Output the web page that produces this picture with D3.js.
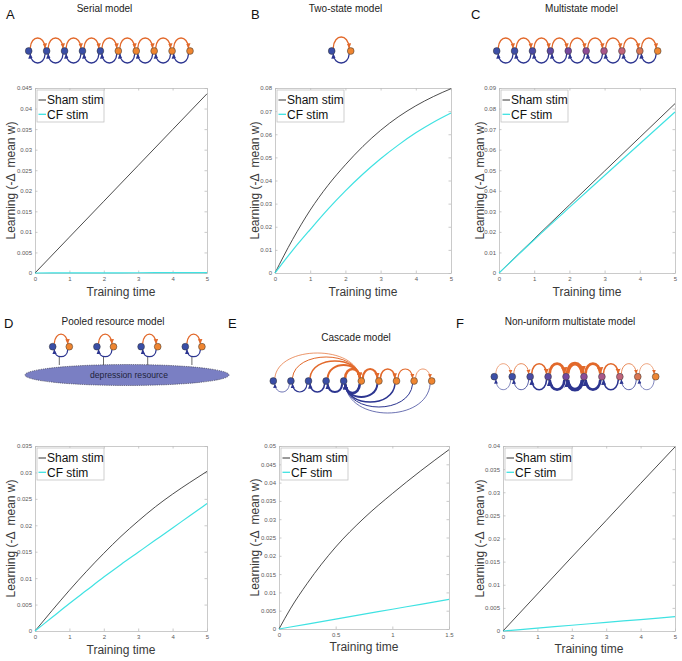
<!DOCTYPE html>
<html><head><meta charset="utf-8">
<script src="https://cdn.jsdelivr.net/npm/d3@7"></script>
<style>body{margin:0;background:#fff}svg{display:block;font-family:"Liberation Sans",Arial,Helvetica,sans-serif}</style>
</head><body><svg id="fig" width="682" height="661"></svg>
<script>
// ---------------- data ----------------
const seriesNames = ["Sham stim", "CF stim"];

const timeA = [0, 1, 2, 3, 4, 5];
const shamA = [0, 0.00872, 0.01744, 0.02616, 0.03488, 0.0436];
const cfA   = [0, 0.00002, 0.00004, 0.00006, 0.00008, 0.0001];

const timeB = [0, 0.5, 1, 1.5, 2, 2.5, 3, 3.5, 4, 4.5, 5];
const shamB = [0, 0.0145, 0.0272, 0.0378, 0.0468, 0.0548, 0.0617, 0.0675, 0.0723, 0.0763, 0.0797];
const cfB   = [0, 0.0098, 0.0188, 0.0275, 0.0355, 0.0428, 0.0494, 0.0553, 0.0606, 0.0652, 0.0692];

const timeC = [0, 1, 2, 3, 4, 5];
const shamC = [0, 0.0166, 0.0331, 0.0496, 0.0660, 0.0824];
const cfC   = [0, 0.0162, 0.0319, 0.0474, 0.0629, 0.0783];

const timeD = [0, 0.5, 1, 1.5, 2, 2.5, 3, 3.5, 4, 4.5, 5];
const shamD = [0, 0.0039, 0.0077, 0.0113, 0.0147, 0.0179, 0.0208, 0.0235, 0.0259, 0.0281, 0.0302];
const cfD   = [0, 0.0026, 0.0052, 0.0077, 0.0102, 0.0126, 0.0149, 0.0172, 0.0195, 0.0218, 0.0241];

const timeE = [0, 0.1, 0.25, 0.5, 0.75, 1, 1.25, 1.5];
const shamE = [0, 0.0055, 0.0125, 0.0224, 0.0303, 0.0370, 0.0432, 0.0490];
const cfE   = [0, 0.00054, 0.00135, 0.0027, 0.00405, 0.0054, 0.00675, 0.0081];

const timeF = [0, 1, 2, 3, 4, 5];
const shamF = [0, 0.0080, 0.0160, 0.0239, 0.0319, 0.0398];
const cfF   = [0, 0.00062, 0.00124, 0.00186, 0.00248, 0.0031];

const xTicks5 = [0, 1, 2, 3, 4, 5];
const xTicksE = [0, 0.5, 1, 1.5];
const yTicksA = [0, 0.005, 0.01, 0.015, 0.02, 0.025, 0.03, 0.035, 0.04, 0.045];
const yTicksB = [0, 0.01, 0.02, 0.03, 0.04, 0.05, 0.06, 0.07, 0.08];
const yTicksC = [0, 0.01, 0.02, 0.03, 0.04, 0.05, 0.06, 0.07, 0.08, 0.09];
const yTicksD = [0, 0.005, 0.01, 0.015, 0.02, 0.025, 0.03, 0.035];
const yTicksE = [0, 0.005, 0.01, 0.015, 0.02, 0.025, 0.03, 0.035, 0.04, 0.045, 0.05];
const yTicksF = [0, 0.005, 0.01, 0.015, 0.02, 0.025, 0.03, 0.035, 0.04];

const panelLetters = ["A", "B", "C", "D", "E", "F"];
const panelTitles = ["Serial model", "Two-state model", "Multistate model",
                     "Pooled resource model", "Cascade model", "Non-uniform multistate model"];
const xLabel = "Training time";
const yLabel = "Learning (-\u0394  mean w)";
const poolLabel = "depression resource";

// ---------------- styles ----------------
const SHAM_COLOR = "#1e1e1e", CF_COLOR = "#3fe2e2";
const AXIS_COLOR = "#bcbcbc", TICKTXT = "#5a5a5a", LABEL = "#3a3a3a";
const BLUE = "#3a4ea6", ORANGE = "#ef8530";
const ARC_UP = "#e2692b", ARC_DN = "#2c3590";
const multiColors = ["#3d4fa6","#3f4ea6","#4a4ba3","#5d49a1","#74489e","#8d4c97","#a8578a","#c0647a","#d97652","#ee8733"];
const R = 3.4;

const svg = d3.select("#fig");
svg.append("rect").attr("width",682).attr("height",661).attr("fill","#fff");
const defs = svg.append("defs");

// ---------------- plots ----------------
const panels = [
  {box:[35,207,88,273],  t:timeA, s:shamA, c:cfA, xd:[0,5],   yd:[0,0.045], xt:xTicks5, yt:yTicksA, ylx:10.5,xly:296},
  {box:[275,451,88,273], t:timeB, s:shamB, c:cfB, xd:[0,5],   yd:[0,0.08],  xt:xTicks5, yt:yTicksB, ylx:254.5, xly:296},
  {box:[499,675,88,273], t:timeC, s:shamC, c:cfC, xd:[0,5],   yd:[0,0.09],  xt:xTicks5, yt:yTicksC, ylx:479.5, xly:296},
  {box:[35,207,446,631], t:timeD, s:shamD, c:cfD, xd:[0,5],   yd:[0,0.035], xt:xTicks5, yt:yTicksD, ylx:10.5,xly:654},
  {box:[279,449,446,629],t:timeE, s:shamE, c:cfE, xd:[0,1.5], yd:[0,0.05],  xt:xTicksE, yt:yTicksE, ylx:254.5, xly:651},
  {box:[503,675,446,631],t:timeF, s:shamF, c:cfF, xd:[0,5],   yd:[0,0.04],  xt:xTicks5, yt:yTicksF, ylx:479.5, xly:653}
];
const fmt = d => d === 0 ? "0" : String(+d.toFixed(4));

panels.forEach(p => {
  const [x0,x1,y0,y1] = p.box;
  const x = d3.scaleLinear().domain(p.xd).range([x0,x1]);
  const y = d3.scaleLinear().domain(p.yd).range([y1,y0]);
  const g = svg.append("g");
  const styleAxis = (sel, labels) => {
    sel.select(".domain").attr("stroke",AXIS_COLOR).attr("stroke-width",0.8);
    sel.selectAll(".tick line").attr("stroke",AXIS_COLOR).attr("stroke-width",0.8);
    sel.selectAll(".tick text").attr("fill",TICKTXT).style("font-size","6px")
      .style("font-family","Liberation Sans, Arial, sans-serif");
    if(!labels) sel.selectAll(".tick text").remove();
  };
  g.append("g").attr("transform",`translate(0,${y1})`)
    .call(d3.axisBottom(x).tickValues(p.xt).tickFormat(fmt).tickSizeInner(-2.5).tickSizeOuter(0).tickPadding(4))
    .call(s=>styleAxis(s,true));
  g.append("g").attr("transform",`translate(0,${y0})`)
    .call(d3.axisTop(x).tickValues(p.xt).tickSizeInner(-2.5).tickSizeOuter(0))
    .call(s=>styleAxis(s,false));
  g.append("g").attr("transform",`translate(${x0},0)`)
    .call(d3.axisLeft(y).tickValues(p.yt).tickFormat(fmt).tickSizeInner(-2.5).tickSizeOuter(0).tickPadding(3))
    .call(s=>styleAxis(s,true));
  g.append("g").attr("transform",`translate(${x1},0)`)
    .call(d3.axisRight(y).tickValues(p.yt).tickSizeInner(-2.5).tickSizeOuter(0))
    .call(s=>styleAxis(s,false));

  const line = d3.line().x((d,i)=>x(p.t[i])).y(d=>y(d)).curve(d3.curveMonotoneX);
  g.append("path").attr("d",line(p.s)).attr("fill","none").attr("stroke",SHAM_COLOR).attr("stroke-width",0.8);
  g.append("path").attr("d",line(p.c)).attr("fill","none").attr("stroke",CF_COLOR).attr("stroke-width",1.2);

  // legend
  const lg = g.append("g").attr("transform",`translate(${x0+2},${y0+2})`);
  lg.append("rect").attr("width",67).attr("height",32).attr("fill","#fff").attr("stroke","#c4c4c4").attr("stroke-width",0.8);
  seriesNames.forEach((n,i)=>{
    const cy = 10 + i*14.3;
    lg.append("line").attr("x1",1.5).attr("x2",9).attr("y1",cy).attr("y2",cy)
      .attr("stroke", i===0?SHAM_COLOR:CF_COLOR).attr("stroke-width", i===0?0.9:1.3);
    lg.append("text").attr("x",10).attr("y",cy+4.2).text(n).attr("fill","#111").style("font-size","12px");
  });

  // axis labels
  g.append("text").attr("x",(x0+x1)/2).attr("y",p.xly).attr("text-anchor","middle")
    .attr("fill",LABEL).style("font-size","12px").text(xLabel);
  g.append("text").attr("transform",`translate(${p.ylx+4},${(y0+y1)/2}) rotate(-90)`).attr("text-anchor","middle")
    .attr("fill",LABEL).style("font-size","12px").style("white-space","pre").attr("xml:space","preserve").text(yLabel);
});

// ---------------- letters & titles ----------------
const letterPos = [[6,19],[251,19],[471,19],[4,328],[228,328],[456,328]];
const titlePos = [[104.5,12],[345.5,12],[581.5,12],[113,325],[356,341],[570,325]];
panelLetters.forEach((l,i)=>{
  svg.append("text").attr("x",letterPos[i][0]).attr("y",letterPos[i][1]).text(l)
    .attr("fill","#111").style("font-size","13px");
  svg.append("text").attr("x",titlePos[i][0]).attr("y",titlePos[i][1]).text(panelTitles[i])
    .attr("text-anchor","middle").attr("fill","#222").style("font-size","10px");
});

// ---------------- diagrams ----------------
const markers = {};
function marker(color, size){
  const key = color+"_"+size.toFixed(2);
  if(markers[key]) return markers[key];
  const id = "mk"+Object.keys(markers).length;
  defs.append("marker").attr("id",id).attr("viewBox","0 0 10 10").attr("refX",9).attr("refY",5)
    .attr("markerWidth",size).attr("markerHeight",size).attr("orient","auto").attr("markerUnits","userSpaceOnUse")
    .append("path").attr("d","M0,0.5 L10,5 L0,9.5 z").attr("fill",color);
  markers[key] = "url(#"+id+")";
  return markers[key];
}
function arc(g, xs, xe, y, peak, color, w, asz){
  const s = Math.sign(peak), dir = Math.sign(xe-xs);
  const sx = xs + dir*R*0.45, sy = y + s*R*0.9;
  const ex = xe - dir*R*0.45, ey = y + s*R*0.9;
  const cy = y + (peak - 0.25*s*R*0.9)/0.75;
  const d = Math.abs(xe-xs);
  g.append("path").attr("d",`M${sx},${sy} C${sx+dir*d*0.04},${cy} ${ex-dir*d*0.04},${cy} ${ex},${ey}`)
    .attr("fill","none").attr("stroke",color).attr("stroke-width",w)
    .attr("marker-end", marker(color, asz || 4.5));
}
function nodes(g, xs, y, colors){
  xs.forEach((xv,i)=> g.append("circle").attr("cx",xv).attr("cy",y).attr("r",R)
    .attr("fill",colors[i]).attr("stroke","#333").attr("stroke-width",0.5));
}
const idx10 = d3.range(10);
const twoColors = [BLUE,BLUE,BLUE,BLUE,BLUE,ORANGE,ORANGE,ORANGE,ORANGE,ORANGE];

// Serial
{
  const g = svg.append("g");
  const sx = d3.scaleLinear().domain([0,9]).range([28.7,190]);
  const y = 51;
  d3.range(9).forEach(i=>{
    arc(g, sx(i), sx(i+1), y, -13, ARC_UP, 1.3, 5);
    arc(g, sx(i+1), sx(i), y, 12, ARC_DN, 1.3, 5);
  });
  nodes(g, idx10.map(sx), y, twoColors);
}
// Two-state
{
  const g = svg.append("g");
  const sx = d3.scaleLinear().domain([0,1]).range([331.7,350.7]);
  const y = 51;
  arc(g, sx(0), sx(1), y, -14, ARC_UP, 1.3, 5);
  arc(g, sx(1), sx(0), y, 12, ARC_DN, 1.3, 5);
  nodes(g, [sx(0),sx(1)], y, [BLUE,ORANGE]);
}
// Multistate
{
  const g = svg.append("g");
  const sx = d3.scaleLinear().domain([0,9]).range([496.7,657.7]);
  const y = 51;
  d3.range(9).forEach(i=>{
    arc(g, sx(i), sx(i+1), y, -13, ARC_UP, 1.3, 5);
    arc(g, sx(i+1), sx(i), y, 12, ARC_DN, 1.3, 5);
  });
  nodes(g, idx10.map(sx), y, multiColors);
}
// Pooled resource
{
  const g = svg.append("g");
  g.append("ellipse").attr("cx",127).attr("cy",375).attr("rx",102).attr("ry",10.5)
    .attr("fill","#7a7fc3").attr("stroke","#3a3a4a").attr("stroke-width",0.7).attr("stroke-dasharray","1.2,1");
  g.append("text").attr("x",129).attr("y",378).attr("text-anchor","middle").text(poolLabel)
    .attr("fill","#1f1f3a").style("font-size","8.6px");
  const px = d3.scaleLinear().domain([0,3]).range([52.7,185.3]);
  const y = 346.7;
  d3.range(4).forEach(k=>{
    const b = px(k), o = px(k)+16.6;
    g.append("line").attr("x1",b+6.6).attr("x2",b+6.6).attr("y1",356).attr("y2",365)
      .attr("stroke","#444").attr("stroke-width",0.8);
    arc(g, b, o, y, -12.5, ARC_UP, 1.3, 5);
    arc(g, o, b, y, 10, ARC_DN, 1.3, 5);
    nodes(g, [b,o], y, [BLUE,ORANGE]);
  });
}
// Cascade
{
  const g = svg.append("g");
  const sx = d3.scaleLinear().domain([0,9]).range([273.3,431.7]);
  const y = 381;
  const upPeaks = [-28,-24,-20,-16,-12];
  const upW = [0.7,1.0,1.5,2.0,2.6];
  d3.range(5).forEach(k=> arc(g, sx(k), sx(5), y, upPeaks[k], ARC_UP, upW[k], 3.5+upW[k]));
  const chainW = [2.2,1.6,1.1,0.7];
  d3.range(4).forEach(j=>{
    arc(g, sx(5+j), sx(6+j), y, -12, ARC_UP, chainW[j], 3.5+chainW[j]);
    arc(g, sx(4-j), sx(3-j), y, 11, ARC_DN, chainW[j], 3.5+chainW[j]);
  });
  const dnPeaks = [12,16,21,26,32];
  const dnW = [2.6,2.0,1.5,1.0,0.7];
  d3.range(5).forEach(k=> arc(g, sx(5+k), sx(4), y, dnPeaks[k], ARC_DN, dnW[k], 3.5+dnW[k]));
  nodes(g, idx10.map(sx), y, twoColors);
}
// Non-uniform multistate
{
  const g = svg.append("g");
  const sx = d3.scaleLinear().domain([0,9]).range([494.3,655.7]);
  const y = 376.7;
  const w = [0.6,0.8,1.6,2.8,3.8,2.8,1.6,0.8,0.6];
  d3.range(9).forEach(i=>{
    arc(g, sx(i), sx(i+1), y, -13, ARC_UP, w[i], 3.5+w[i]*1.3);
    arc(g, sx(i+1), sx(i), y, 13, ARC_DN, w[i], 3.5+w[i]*1.3);
  });
  nodes(g, idx10.map(sx), y, multiColors);
}
</script></body></html>
